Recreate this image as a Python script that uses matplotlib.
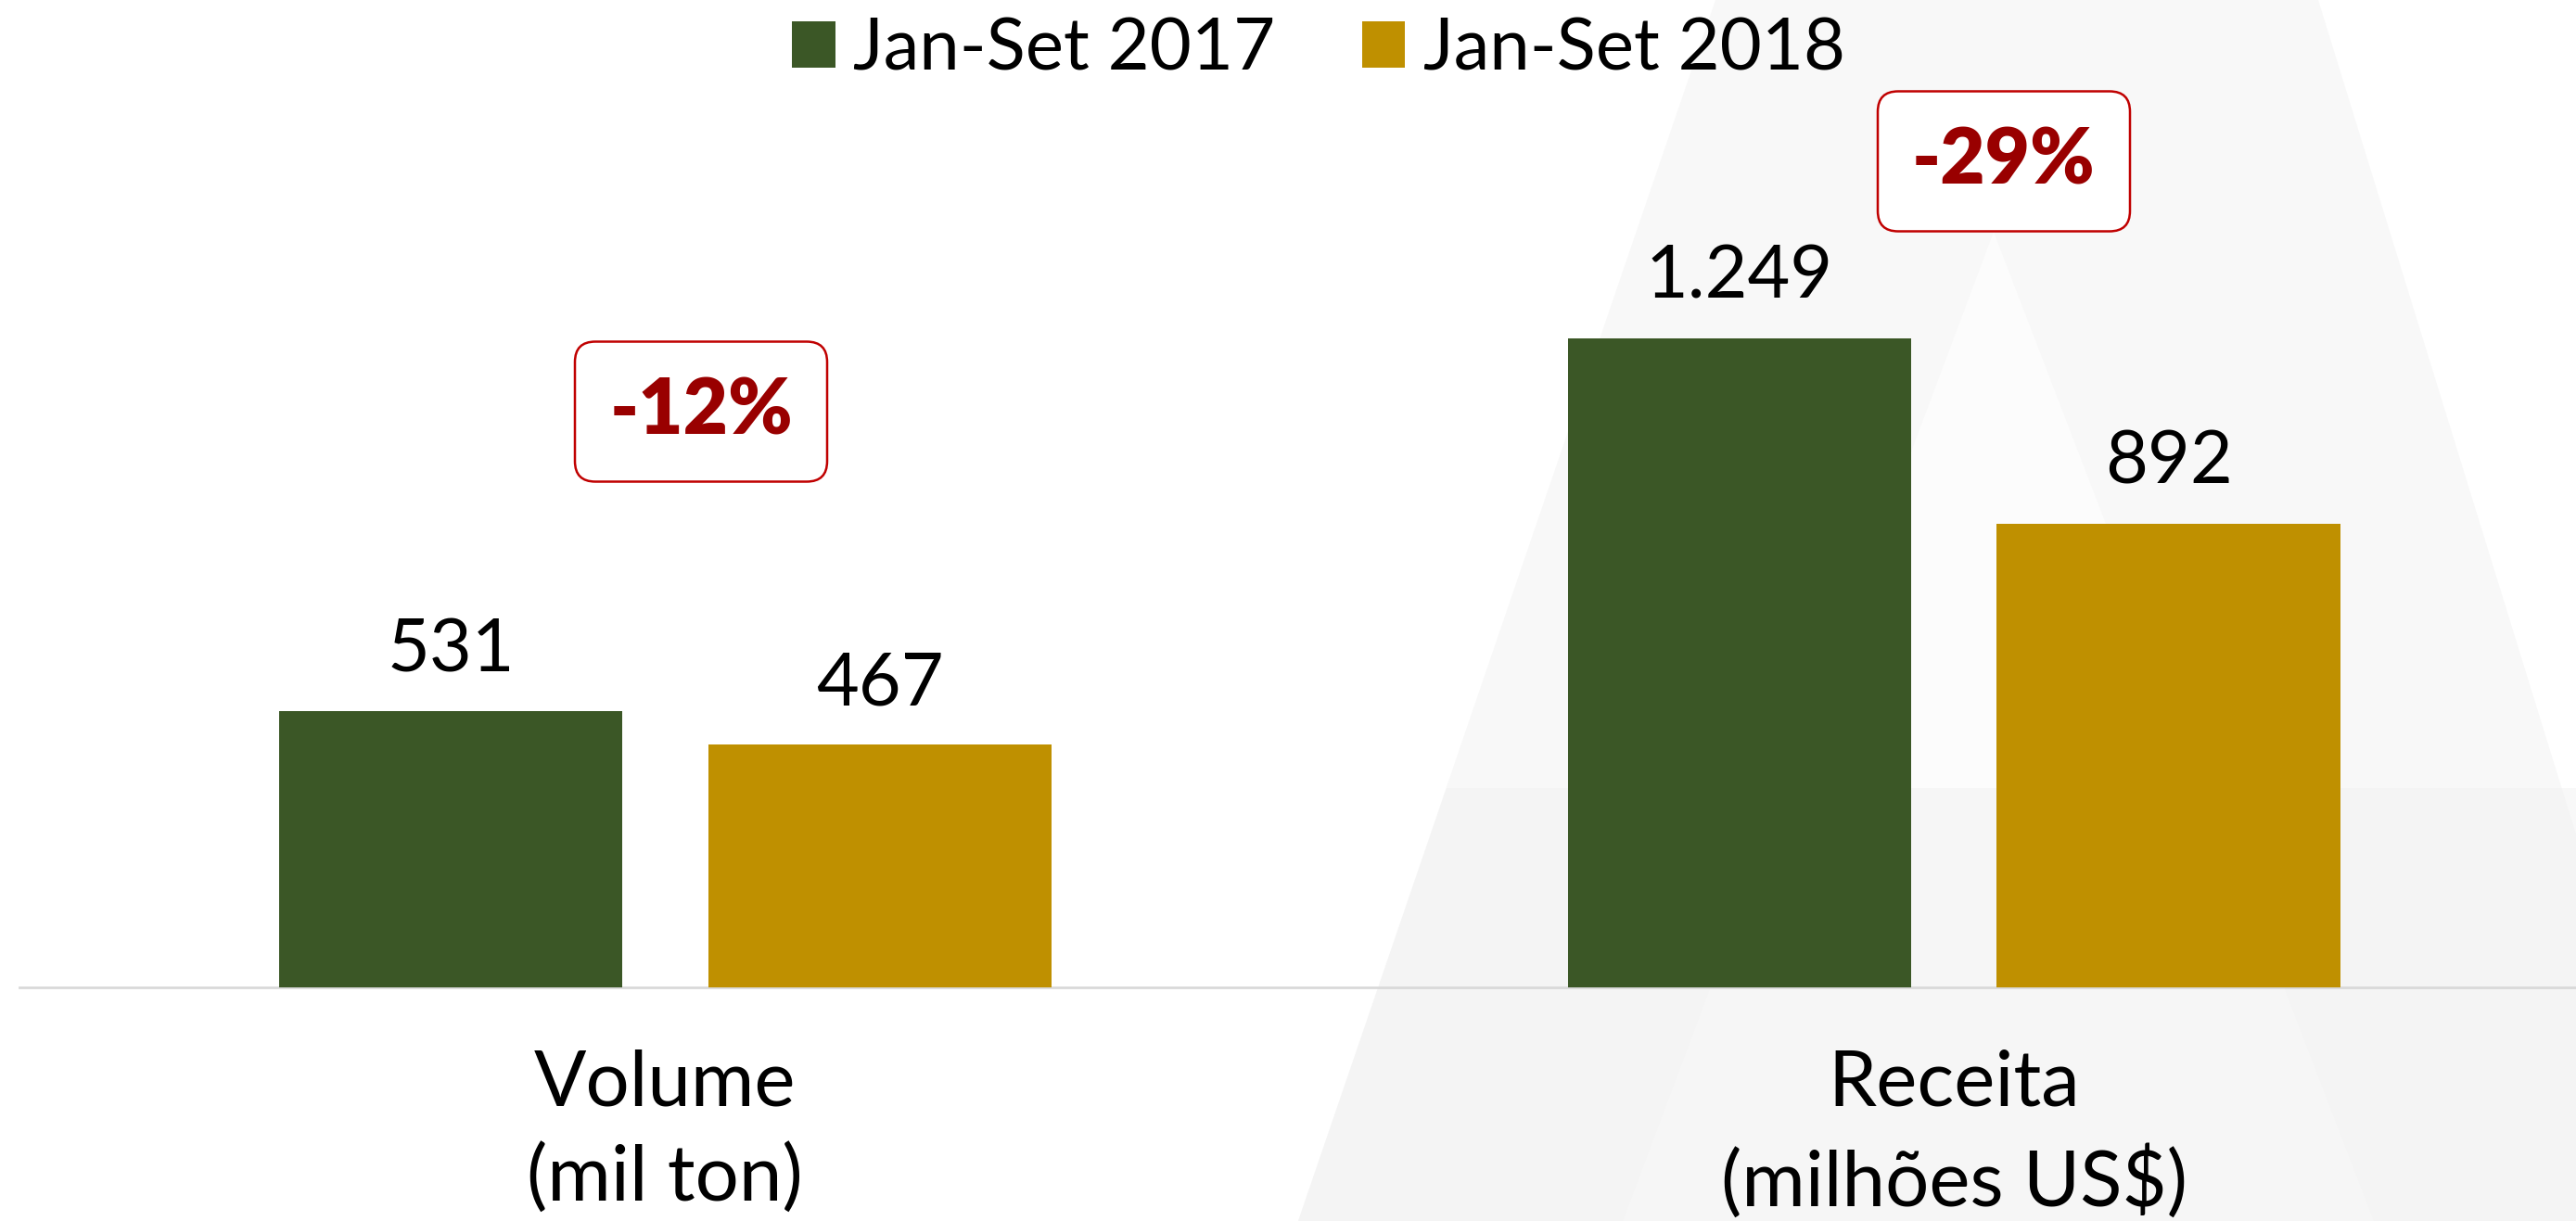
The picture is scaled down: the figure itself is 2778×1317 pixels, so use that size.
import matplotlib.pyplot as plt
import numpy as np
from matplotlib.patches import Patch, FancyBboxPatch, Polygon

# Data
categories = ["Volume\n(mil ton)", "Receita\n(milhões US$)"]
series_names = ["Jan-Set 2017", "Jan-Set 2018"]
values_2017 = [531, 1249]
values_2018 = [467, 892]
value_labels_2017 = ["531", "1.249"]
value_labels_2018 = ["467", "892"]
changes = ["-12%", "-29%"]

# Styles
green = "#3B5726"
gold = "#BF9000"
red = "#990000"
W, H = 2778, 1317

plt.rcParams["font.family"] = ["Lato", "DejaVu Sans"]

fig = plt.figure(figsize=(W / 100, H / 100), dpi=100)

# faint watermark in the background (right side)
bg = fig.add_axes([0, 0, 1, 1], zorder=-10)
bg.set_xlim(0, W)
bg.set_ylim(H, 0)
bg.axis("off")
bg.add_patch(Polygon([[1850, 0], [2500, 0], [2778, 900], [2778, 1317], [1400, 1317]],
                     closed=True, facecolor="#f8f8f8", edgecolor="none"))
bg.add_patch(Polygon([[2150, 250], [2560, 1317], [1750, 1317]],
                     closed=True, facecolor="#fcfcfc", edgecolor="none"))
bg.add_patch(Polygon([[1400, 1317], [1560, 850], [2778, 850], [2778, 1317]],
                     closed=True, facecolor="#eeeeee", edgecolor="none", alpha=0.4))

# Main axes: baseline at y=1065 px, left edge at x=21 px
ax = fig.add_axes([21 / W, 1 - 1065 / H, 1 - 21 / W, 1065 / H])
ax.patch.set_alpha(0)

x = np.arange(len(categories))
offset = 0.1664
width = 0.2664
b1 = ax.bar(x - offset, values_2017, width, color=green, label=series_names[0], zorder=3)
b2 = ax.bar(x + offset, values_2018, width, color=gold, label=series_names[1], zorder=3)

ax.set_xlim(-0.501, 1.4825)
ax.set_ylim(0, 531 * 601 / 168)

for rect, lab in zip(b1, value_labels_2017):
    ax.annotate(lab, (rect.get_x() + rect.get_width() / 2, rect.get_height()),
                xytext=(0, 21), textcoords="offset points", ha="center", va="bottom",
                fontsize=57, color="black")
for rect, lab in zip(b2, value_labels_2018):
    ax.annotate(lab, (rect.get_x() + rect.get_width() / 2, rect.get_height()),
                xytext=(0, 21), textcoords="offset points", ha="center", va="bottom",
                fontsize=57, color="black")

# spines / ticks
for s in ["top", "right", "left"]:
    ax.spines[s].set_visible(False)
ax.spines["bottom"].set_color("#d9d9d9")
ax.spines["bottom"].set_linewidth(2)
ax.set_yticks([])
ax.set_xticks(x)
ax.set_xticklabels(categories, fontsize=60, linespacing=1.42)
ax.tick_params(axis="x", length=0, pad=48)

# change boxes (figure pixel positions of box centers)
box_centers = [(756, 444), (2161, 174)]
box_w, box_h = 272, 151
for (cx, cy), txt in zip(box_centers, changes):
    fx, fy = (cx - box_w / 2) / W, 1 - (cy + box_h / 2) / H
    patch = FancyBboxPatch((fx, fy), box_w / W, box_h / H,
                           boxstyle="round,pad=0,rounding_size=%f" % (22 / W),
                           mutation_aspect=W / H, transform=fig.transFigure,
                           facecolor="white", edgecolor="#C00000", linewidth=1.8, zorder=5)
    fig.patches.append(patch)
    fig.text(cx / W, 1 - cy / H, txt, ha="center", va="center", fontsize=60,
             fontweight="heavy", color=red, zorder=6)

# legend
handles = [Patch(facecolor=green), Patch(facecolor=gold)]
fig.legend(handles, series_names, loc="center", bbox_to_anchor=(1422 / W, 1 - 54 / H),
           ncol=2, frameon=False, fontsize=56, handlelength=0.6, handleheight=0.6,
           handletextpad=0.25, columnspacing=1.2, borderpad=0)

fig.savefig("out.png", dpi=100, facecolor="white")
